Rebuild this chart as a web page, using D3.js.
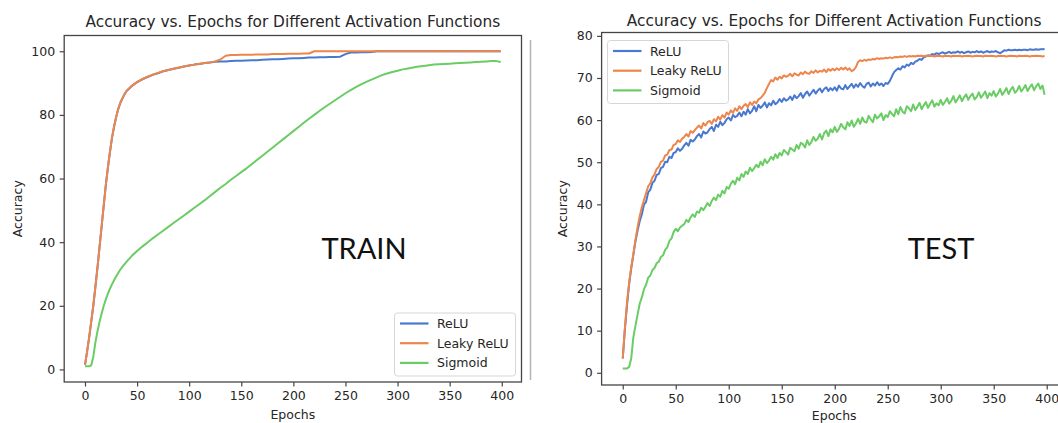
<!DOCTYPE html>
<html>
<head>
<meta charset="utf-8">
<script src="https://cdn.jsdelivr.net/npm/d3@7"></script>
<style>
  body { margin: 0; background: #fff; }
  svg { display: block; }
  text { font-family: "DejaVu Sans", sans-serif; }
</style>
</head>
<body>
<svg id="chart" width="1058" height="423"></svg>
<script>
// ---------- data ----------
const seriesNames = ["ReLU", "Leaky ReLU", "Sigmoid"];
const chartTitle = "Accuracy vs. Epochs for Different Activation Functions";
const xTicks = [0, 50, 100, 150, 200, 250, 300, 350, 400];
const trainYTicks = [0, 20, 40, 60, 80, 100];
const testYTicks = [0, 10, 20, 30, 40, 50, 60, 70, 80];

// training accuracy (sampled epochs)
const trainEpochs = [0,2,4,6,8,10,12,14,16,18,20,22,24,26,28,30,32,34,36,38,40,
  45,50,55,60,65,70,75,80,85,90,95,100,105,110,115,120,125,
  130,135,140,145,150,155,160,165,170,175,180,185,190,195,200,205,210,215,220,225,230,235,240,245,250,
  255,260,265,270,275,280,285,290,295,300,305,310,315,320,325,330,335,340,345,350,355,360,365,370,375,
  380,385,390,395,399];

const reluTrain = [1.4,5.6,10.1,15.0,20.1,26.0,32.1,38.6,45.0,51.6,57.9,63.4,68.4,72.9,76.4,79.4,81.9,83.8,85.2,86.5,87.5,
  89.1,90.3,91.2,91.9,92.6,93.1,93.7,94.1,94.5,94.8,95.2,95.5,95.8,96.0,96.3,96.5,96.7,
  96.8,96.8,96.9,97.0,97.0,97.1,97.2,97.2,97.3,97.4,97.5,97.5,97.6,97.7,97.8,97.8,97.9,98.0,98.0,98.1,98.1,98.2,98.2,98.3,99.1,
  99.6,99.6,99.7,99.7,99.8,100.0,100.0,100.0,100.0,100.0,100.0,100.0,100.0,100.0,100.0,100.0,100.0,100.0,100.0,100.0,100.0,100.0,100.0,100.0,100.0,
  100.0,100.0,100.0,100.0,100.0];

const leakyTrain = [1.4,5.5,10.0,15.1,20.0,25.9,32.0,38.5,45.1,51.5,58.0,63.5,68.5,73.0,76.5,79.5,82.0,83.9,85.3,86.6,87.6,
  89.2,90.3,91.2,92.0,92.6,93.2,93.7,94.1,94.5,94.9,95.2,95.5,95.8,96.1,96.3,96.5,96.8,
  97.4,98.6,98.8,98.8,98.9,98.9,98.9,99.0,99.0,99.0,99.1,99.1,99.1,99.2,99.2,99.2,99.3,99.3,100.0,100.0,100.0,100.0,100.0,100.0,100.0,
  100.0,100.0,100.0,100.0,100.0,100.0,100.0,100.0,100.0,100.0,100.0,100.0,100.0,100.0,100.0,100.0,100.0,100.0,100.0,100.0,100.0,100.0,100.0,100.0,100.0,
  100.0,100.0,100.0,100.0,100.0];

const sigmoidTrain = [1.0,1.0,1.0,1.3,4.0,8.5,12.0,15.0,17.6,20.0,22.0,23.8,25.4,26.8,28.1,29.3,30.4,31.4,32.3,33.1,33.9,
  35.7,37.2,38.6,39.9,41.2,42.4,43.6,44.8,46.0,47.2,48.4,49.6,50.8,52.0,53.2,54.5,55.8,
  57.1,58.3,59.6,60.8,62.0,63.2,64.5,65.8,67.1,68.4,69.7,71.0,72.3,73.6,74.9,76.2,77.5,78.8,80.0,81.2,82.4,83.5,84.6,85.7,86.8,
  87.8,88.7,89.6,90.4,91.1,91.8,92.5,93.0,93.5,93.9,94.3,94.6,94.9,95.2,95.4,95.6,95.8,95.9,96.0,96.1,96.2,96.3,96.4,96.5,96.6,
  96.7,96.8,96.9,96.9,96.6];

// test accuracy, every second epoch (0, 2, ..., 398)
const testEpochs = d3.range(0, 400, 2);

const reluTest = [
  3.4,10.2,16.0,21.0,24.8,28.0,31.2,33.8,36.0,37.6,39.9,40.6,42.8,43.5,45.1,45.6,47.0,47.2,48.6,48.9,50.1,50.0,51.3,51.0,52.2,
  52.4,53.3,52.7,53.2,54.0,54.6,53.9,55.3,54.9,55.4,56.2,56.7,55.9,57.3,56.8,57.1,57.9,58.4,57.4,58.9,58.4,59.6,58.8,59.3,60.2,
  60.6,59.9,61.2,60.7,61.0,61.8,60.9,62.0,61.3,62.6,61.6,62.2,63.3,62.1,63.6,62.9,63.4,64.2,63.0,64.0,63.5,64.6,63.8,64.2,65.0,
  64.3,65.2,64.6,64.9,65.6,64.8,65.9,65.2,65.7,66.4,65.3,66.2,66.8,65.8,66.5,67.2,66.3,67.0,67.5,66.6,67.4,67.8,66.9,67.6,67.1,
  67.8,67.0,68.2,67.5,67.3,68.3,67.4,68.0,68.6,67.7,68.5,67.9,68.8,68.1,67.7,68.6,68.9,68.0,68.7,68.2,69.0,68.3,68.7,68.1,68.8,
  68.6,69.3,70.4,71.4,71.9,72.3,72.0,72.8,72.5,73.2,72.9,73.6,73.3,73.9,74.1,74.5,74.3,74.9,75.1,75.4,75.3,75.7,75.5,75.9,75.7,
  75.9,76.1,75.8,76.0,76.2,75.9,76.1,76.0,76.3,76.0,76.2,75.9,76.1,76.3,76.0,76.2,76.1,76.4,76.1,76.3,76.0,76.2,76.4,76.1,76.3,
  76.2,76.4,76.1,75.9,76.2,76.6,76.5,76.7,76.6,76.6,76.7,76.6,76.7,76.6,76.7,76.7,76.6,76.8,76.7,76.7,76.8,76.7,76.8,76.8,76.9];

const leakyTest = [
  3.4,10.6,16.6,21.4,25.1,28.2,31.6,34.6,37.2,39.3,41.0,42.6,44.3,45.0,46.4,47.1,48.4,48.9,50.1,50.4,51.6,51.8,52.9,53.0,54.1,
  54.3,55.2,54.8,55.6,56.0,56.7,56.1,57.4,57.0,57.6,58.2,58.7,58.0,59.3,58.7,59.5,59.8,59.1,60.2,59.7,60.8,60.1,61.2,60.6,61.8,
  61.3,62.3,61.7,62.8,62.2,63.3,62.6,63.4,63.8,63.1,64.2,63.6,64.4,64.0,64.9,65.2,65.8,66.5,67.6,68.6,69.5,69.2,70.1,69.6,70.3,
  69.9,70.6,70.3,70.5,71.0,70.4,71.1,70.8,70.6,71.3,70.9,71.5,71.1,71.0,71.6,71.2,71.8,71.3,71.7,71.5,72.0,71.4,72.1,71.7,72.2,
  71.8,72.3,71.9,72.4,72.0,72.5,71.9,72.3,71.6,71.9,72.6,73.8,74.2,74.0,74.3,74.1,74.4,74.3,74.5,74.4,74.7,74.5,74.7,74.6,74.8,
  74.7,74.9,74.7,74.9,75.0,74.9,75.1,75.0,75.2,75.0,75.2,75.1,75.2,75.1,75.3,75.2,75.3,75.1,75.3,75.2,75.2,75.3,75.1,75.2,75.3,
  75.2,75.1,75.3,75.2,75.2,75.1,75.3,75.2,75.2,75.3,75.1,75.2,75.2,75.3,75.2,75.1,75.2,75.3,75.2,75.2,75.1,75.3,75.2,75.2,75.3,
  75.2,75.1,75.2,75.3,75.2,75.2,75.1,75.2,75.3,75.2,75.2,75.1,75.3,75.2,75.2,75.3,75.2,75.1,75.2,75.2,75.3,75.2,75.2,75.1,75.2];

const sigmoidTest = [
  1.0,1.0,1.0,1.4,3.4,8.4,11.2,13.8,16.4,17.9,19.8,20.9,22.6,23.1,24.4,24.9,26.0,26.4,27.5,27.9,29.2,29.8,31.3,31.9,33.4,
  34.2,33.6,34.5,34.9,35.3,36.3,35.8,36.9,37.6,37.0,38.3,38.0,39.2,38.6,39.4,40.3,39.6,40.8,41.6,41.0,42.3,41.8,43.2,42.6,44.1,
  43.7,44.9,45.6,44.8,46.3,45.7,47.2,46.5,47.8,47.2,48.7,47.9,48.6,49.4,48.8,50.1,49.3,50.7,49.8,50.4,51.3,50.6,51.9,51.0,52.2,
  51.6,52.9,52.4,51.8,53.4,53.0,52.6,54.1,53.2,54.6,54.3,53.5,55.2,54.1,54.8,56.0,55.1,55.6,56.7,55.4,56.9,57.5,56.2,57.8,57.1,
  58.4,57.2,57.9,59.1,58.3,57.8,59.5,58.6,59.9,58.4,59.2,60.3,59.1,60.6,59.6,59.4,61.0,60.2,59.5,61.3,60.4,60.9,61.6,60.0,61.2,
  60.7,62.1,61.5,60.9,62.6,61.4,63.1,62.0,61.6,63.3,62.8,62.1,63.7,62.4,63.2,64.1,62.6,63.5,64.3,62.9,63.9,64.7,63.2,64.0,63.5,
  64.8,63.6,64.3,65.2,63.9,64.6,65.7,64.2,65.0,65.9,64.5,65.4,66.1,64.8,65.7,66.3,64.9,65.5,66.6,65.3,66.0,66.8,65.2,66.4,65.8,
  66.9,65.6,66.3,67.4,66.0,66.7,67.6,66.2,67.2,67.9,66.5,67.0,68.1,66.8,67.5,68.3,66.9,67.8,68.5,67.1,68.0,68.7,67.4,68.2,66.0];

// ---------- drawing ----------
const palette = ["#4878d0", "#ee854a", "#6acc64"];
const svg = d3.select("#chart");
const FS = 12.5;

// thin divider between the two figures
svg.append("line")
  .attr("x1", 530.5).attr("x2", 530.5).attr("y1", 40).attr("y2", 380)
  .attr("stroke", "#b4b4b4").attr("stroke-width", 1.5);

function drawPanel(cfg) {
  const { id, left, right, top, bottom, yDomain, yTicks, xs, series, legend, tag, titleY, xLabelY, yLabelX } = cfg;
  const x = d3.scaleLinear().domain([-19.95, 418.95]).range([left, right]);
  const y = d3.scaleLinear().domain(yDomain).range([bottom, top]);
  const g = svg.append("g");

  g.append("clipPath").attr("id", "clip-" + id)
    .append("rect").attr("x", left).attr("y", top).attr("width", right - left).attr("height", bottom - top);

  // series lines
  const line = d3.line().x((d, i) => x(xs[i])).y(d => y(d));
  series.forEach((vals, k) => {
    g.append("path")
      .attr("clip-path", `url(#clip-${id})`)
      .attr("d", line(vals))
      .attr("fill", "none")
      .attr("stroke", palette[k])
      .attr("stroke-width", 2)
      .attr("stroke-linejoin", "round");
  });

  // frame
  g.append("rect")
    .attr("x", left).attr("y", top).attr("width", right - left).attr("height", bottom - top)
    .attr("fill", "none").attr("stroke", "#454545").attr("stroke-width", 1.3);

  // axes
  const styleAxis = sel => {
    sel.select(".domain").remove();
    sel.selectAll(".tick line").attr("stroke", "#454545").attr("stroke-width", 1.2);
    sel.selectAll(".tick text").attr("fill", "#262626")
      .style("font-family", '"DejaVu Sans", sans-serif').style("font-size", FS + "px");
  };
  g.append("g").attr("transform", `translate(0,${bottom})`)
    .call(d3.axisBottom(x).tickValues(xTicks).tickSize(4.5).tickPadding(4.5).tickFormat(d3.format("d")))
    .call(styleAxis);
  g.append("g").attr("transform", `translate(${left},0)`)
    .call(d3.axisLeft(y).tickValues(yTicks).tickSize(4.5).tickPadding(4.5).tickFormat(d3.format("d")))
    .call(styleAxis);

  // title and axis labels
  g.append("text").attr("x", (left + right) / 2).attr("y", titleY)
    .attr("text-anchor", "middle").attr("fill", "#262626").style("font-size", "15.35px")
    .text(chartTitle);
  g.append("text").attr("x", (left + right) / 2).attr("y", xLabelY)
    .attr("text-anchor", "middle").attr("fill", "#262626").style("font-size", FS + "px")
    .text("Epochs");
  g.append("text")
    .attr("transform", `translate(${yLabelX},${(top + bottom) / 2}) rotate(-90)`)
    .attr("text-anchor", "middle").attr("fill", "#262626").style("font-size", FS + "px")
    .text("Accuracy");

  // legend
  const lg = g.append("g").attr("transform", `translate(${legend.x},${legend.y})`);
  lg.append("rect").attr("width", 121).attr("height", 63).attr("rx", 3)
    .attr("fill", "#fff").attr("fill-opacity", 0.8)
    .attr("stroke", "#d6d6d6").attr("stroke-width", 1);
  seriesNames.forEach((name, k) => {
    const ry = 10.5 + k * 19.7;
    lg.append("line").attr("x1", 5.5).attr("x2", 34).attr("y1", ry).attr("y2", ry)
      .attr("stroke", palette[k]).attr("stroke-width", 2.2);
    lg.append("text").attr("x", 42.5).attr("y", ry).attr("dy", "0.36em")
      .attr("fill", "#262626").style("font-size", FS + "px").text(name);
  });

  // split tag
  g.append("text").attr("x", tag.x).attr("y", tag.y).attr("text-anchor", "middle")
    .attr("fill", "#111").style("font-family", "Lato, 'Open Sans', sans-serif").style("font-size", "29px")
    .text(tag.text);
}

drawPanel({
  id: "train", left: 64.2, right: 521.5, top: 35.5, bottom: 382,
  yDomain: [-3.95, 104.95], yTicks: trainYTicks, xs: trainEpochs,
  series: [reluTrain, leakyTrain, sigmoidTrain],
  legend: { x: 394.5, y: 313 },
  tag: { x: 364, y: 259, text: "TRAIN" },
  titleY: 27, xLabelY: 419.3, yLabelX: 21.8
});

drawPanel({
  id: "test", left: 601.6, right: 1066.8, top: 32.5, bottom: 385,
  yDomain: [-2.9, 80.8], yTicks: testYTicks, xs: testEpochs,
  series: [reluTest, leakyTest, sigmoidTest],
  legend: { x: 607.5, y: 40.5 },
  tag: { x: 941, y: 259, text: "TEST" },
  titleY: 26, xLabelY: 419.6, yLabelX: 567.4
});
</script>
</body>
</html>
